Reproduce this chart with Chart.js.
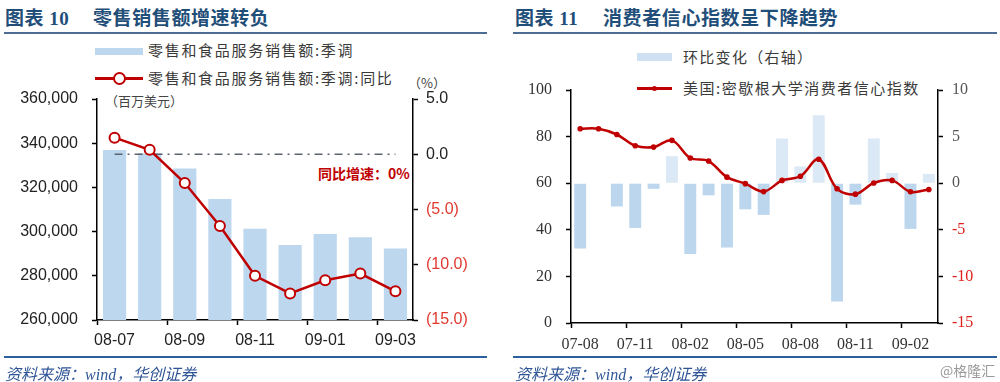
<!DOCTYPE html>
<html><head><meta charset="utf-8">
<script src="https://cdn.jsdelivr.net/npm/chart.js@4"></script>
<style>
html,body{margin:0;padding:0;background:#fff;width:1000px;height:382px;overflow:hidden;position:relative;font-family:"Noto Sans CJK SC","Liberation Sans",sans-serif;}
.abs{position:absolute;white-space:nowrap;}
canvas{position:absolute;}
.title{font-weight:bold;font-size:19px;color:#1f4e79;line-height:22px;letter-spacing:0.6px;}
.num{font-family:"Liberation Serif",serif;font-weight:bold;}
.rule{position:absolute;height:2px;}
.leg{font-size:15px;color:#3a3a3a;line-height:20px;letter-spacing:1.7px;}
.foot{font-size:16px;color:#2f5597;font-style:italic;line-height:20px;}
</style></head><body>

<!-- Left panel -->
<div class="abs title" style="left:5px;top:6px;">图表 <span class="num">10</span></div>
<div class="abs title" style="left:93px;top:6px;">零售销售额增速转负</div>
<div class="rule" style="left:4px;top:32px;width:483px;background:#4d6d92;"></div>

<div class="abs" style="left:95px;top:48px;width:48px;height:7px;background:#bdd7ee;"></div>
<div class="abs leg" style="left:148px;top:40px;">零售和食品服务销售额:季调</div>
<div class="abs" style="left:95px;top:77px;width:48px;height:2.5px;background:#c00000;"></div>
<div class="abs" style="left:113px;top:72px;width:9px;height:9px;border:2px solid #c00000;border-radius:50%;background:#fff;"></div>
<div class="abs leg" style="left:148px;top:68px;">零售和食品服务销售额:季调:同比</div>
<div class="abs" style="left:105px;top:91px;font-size:13px;color:#444;">（百万美元）</div>
<div class="abs" style="left:408px;top:73px;font-size:13px;color:#444;">（%）</div>
<div class="abs" style="left:318px;top:163px;font-size:14px;font-weight:bold;color:#c00000;line-height:20px;">同比增速：0%</div>

<canvas id="c1" width="500" height="320" style="left:0;top:40px;"></canvas>

<div class="rule" style="left:4px;top:356px;width:483px;background:#2c5f9e;"></div>
<div class="abs foot" style="left:5px;top:363px;">资料来源：<span style="font-family:'Liberation Serif',serif;">wind</span>，华创证券</div>

<!-- Right panel -->
<div class="abs title" style="left:515px;top:6px;">图表 <span class="num">11</span></div>
<div class="abs title" style="left:603px;top:6px;">消费者信心指数呈下降趋势</div>
<div class="rule" style="left:513px;top:32px;width:484px;background:#4d6d92;"></div>

<div class="abs" style="left:637px;top:53px;width:35px;height:8px;background:#cfe0f2;"></div>
<div class="abs leg" style="left:683px;top:47px;letter-spacing:1.3px;">环比变化（右轴）</div>
<div class="abs" style="left:637px;top:87px;width:35px;height:2.5px;background:#c00000;"></div>
<div class="abs" style="left:652px;top:85.5px;width:5px;height:5px;border-radius:50%;background:#c00000;"></div>
<div class="abs leg" style="left:683px;top:78px;letter-spacing:1.5px;">美国:密歇根大学消费者信心指数</div>

<canvas id="c2" width="500" height="320" style="left:500px;top:40px;"></canvas>

<div class="rule" style="left:513px;top:356px;width:484px;background:#2c5f9e;"></div>
<div class="abs foot" style="left:515px;top:363px;">资料来源：<span style="font-family:'Liberation Serif',serif;">wind</span>，华创证券</div>
<div class="abs" style="left:940px;top:360px;font-size:14px;color:#9a9a9a;">@格隆汇</div>

<script>
// ---------- Data: left chart ----------
const retailMonths = ['08-07','08-08','08-09','08-10','08-11','08-12','09-01','09-02','09-03'];
const retailSales = [336900, 335400, 328600, 314700, 301300, 293900, 298900, 297500, 292400];
const retailYoY = [1.5, 0.4, -2.6, -6.5, -11.0, -12.6, -11.4, -10.8, -12.4];
const zeroRef = [0, 0, 0, 0, 0, 0, 0, 0, 0];

// ---------- Data: right chart ----------
const sentMonths = ['07-08','07-09','07-10','07-11','07-12','08-01','08-02','08-03','08-04','08-05',
                    '08-06','08-07','08-08','08-09','08-10','08-11','08-12','09-01','09-02','09-03'];
const sentIndex = [83.4, 83.4, 80.9, 76.1, 75.5, 78.4, 70.8, 69.5, 62.6, 59.8,
                   56.4, 61.2, 63.0, 70.3, 57.6, 55.3, 60.1, 61.2, 56.3, 57.3];
const sentChange = [-7.0, 0.0, -2.5, -4.8, -0.6, 2.9, -7.6, -1.3, -6.9, -2.8,
                    -3.4, 4.8, 1.8, 7.3, -12.7, -2.3, 4.8, 1.1, -4.9, 1.0];

const sansFont = {family: "'Liberation Sans', Arial, sans-serif", size: 16};
const serifFont = {family: "'Liberation Serif', 'Times New Roman', serif", size: 16};

function every(n){ return (ctx) => (ctx.index % n === 0 ? '#000' : 'rgba(0,0,0,0)'); }

new Chart(document.getElementById('c1'), {
  data: {
    labels: retailMonths,
    datasets: [
      {type:'bar', data: retailSales, yAxisID:'y', backgroundColor:'#bdd7ee',
       barPercentage:0.66, categoryPercentage:1.0, order:3},
      {type:'line', data: zeroRef, yAxisID:'y2', borderColor:'#5a6470', borderWidth:1.5,
       borderDash:[8,5,2,5], pointRadius:0, order:2},
      {type:'line', data: retailYoY, yAxisID:'y2', borderColor:'#c00000', borderWidth:2.5,
       pointRadius:5, pointBorderWidth:2, pointBackgroundColor:'#fff', pointBorderColor:'#c00000',
       tension:0, order:1}
    ]
  },
  options: {
    responsive:false, animation:false, events:[],
    layout:{padding:{top:59, left:0, right:0, bottom:0}},
    plugins:{legend:{display:false}, tooltip:{enabled:false}},
    scales:{
      x:{offset:true,
         grid:{offset:true, drawOnChartArea:false, tickLength:5, color:every(2), tickColor:every(2), tickWidth:1.5},
         border:{color:'#000', width:1.5},
         ticks:{autoSkip:false, maxRotation:0, minRotation:0, padding:6, color:'#222', font:sansFont,
                callback:function(v,i){ return i % 2 === 0 ? this.getLabelForValue(v) : ''; }},
         afterFit:(s)=>{ s.height = 40; }},
      y:{position:'left', min:260000, max:360000,
         grid:{drawOnChartArea:false, tickLength:5, color:'#000', tickWidth:1.5},
         border:{color:'#000', width:1.5},
         ticks:{stepSize:20000, padding:14, color:'#222', font:sansFont,
                callback:(v)=>v.toLocaleString('en-US')},
         afterFit:(s)=>{ s.width = 97; }},
      y2:{position:'right', min:-15, max:5,
         grid:{drawOnChartArea:false, tickLength:5, color:'#000', tickWidth:1.5},
         border:{color:'#000', width:1.5},
         ticks:{stepSize:5, padding:8, font:sansFont,
                color:(ctx)=> (ctx.tick && ctx.tick.value < 0 ? '#e0392f' : '#222'),
                callback:(v)=> v < 0 ? '(' + Math.abs(v).toFixed(1) + ')' : v.toFixed(1)},
         afterFit:(s)=>{ s.width = 87; }}
    }
  }
});

new Chart(document.getElementById('c2'), {
  data: {
    labels: sentMonths,
    datasets: [
      {type:'bar', data: sentChange, yAxisID:'y2',
       backgroundColor:(ctx)=> (ctx.raw >= 0 ? '#dbe8f5' : '#bcd6ee'),
       barPercentage:0.65, categoryPercentage:1.0, order:2},
      {type:'line', data: sentIndex, yAxisID:'y', borderColor:'#c00000', borderWidth:2.5,
       pointRadius:2.8, pointBorderWidth:0, pointBackgroundColor:'#c00000',
       tension:0.35, order:1}
    ]
  },
  options: {
    responsive:false, animation:false, events:[],
    layout:{padding:{top:50, left:0, right:0, bottom:0}},
    plugins:{legend:{display:false}, tooltip:{enabled:false}},
    scales:{
      x:{offset:true,
         grid:{offset:true, drawOnChartArea:false, tickLength:5, color:every(3), tickColor:every(3), tickWidth:1.5},
         border:{color:'#000', width:1.5},
         ticks:{autoSkip:false, maxRotation:0, minRotation:0, padding:7, color:'#333', font:serifFont,
                callback:function(v,i){ return i % 3 === 0 ? this.getLabelForValue(v) : ''; }},
         afterFit:(s)=>{ s.height = 37; }},
      y:{position:'left', min:0, max:100,
         grid:{drawOnChartArea:false, tickLength:5, color:'#000', tickWidth:1.5},
         border:{color:'#000', width:1.5},
         ticks:{stepSize:20, padding:14, color:'#333', font:serifFont},
         afterFit:(s)=>{ s.width = 71; }},
      y2:{position:'right', min:-15, max:10,
         grid:{drawOnChartArea:false, tickLength:5, color:'#000', tickWidth:1.5},
         border:{color:'#000', width:1.5},
         ticks:{stepSize:5, padding:9, font:serifFont,
                color:(ctx)=> (ctx.tick && ctx.tick.value < 0 ? '#e0201a' : '#555')},
         afterFit:(s)=>{ s.width = 62; }}
    }
  }
});
</script>
</body></html>
